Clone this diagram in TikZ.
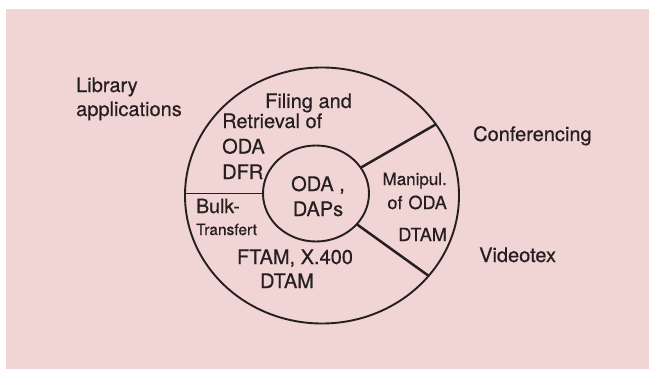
\documentclass[tikz,border=0pt]{standalone}
\usepackage{fontspec}
\setmainfont{TeX Gyre Heros}[FakeBold=0.5]
\usepackage{xcolor}
\usetikzlibrary{shapes.geometric, positioning, calc}
\definecolor{paper}{RGB}{241,213,212}
\definecolor{ink}{RGB}{38,30,32}
\tikzstyle{ring} = [ellipse, draw=ink, line width=1.9pt, inner sep=0pt, outer sep=0pt]
\tikzstyle{spoke} = [draw=ink, line width=2.5pt]
\tikzstyle{txt} = [text=ink, inner sep=0pt, font=\fontsize{20}{24}\selectfont]

\begin{document}
\begin{tikzpicture}[x=1pt, y=-1pt]
\fill [white] (0,0) rectangle (649,369);
\fill [paper] (6,9) rectangle (649,369);
\useasboundingbox (0,0) rectangle (649,369);
\node (outer) [ring, minimum width=274pt, minimum height=256pt] at (322,195.5) {};
\node (inner) [ring, minimum width=106pt, minimum height=96pt] at (316,193.5) {};

\draw [spoke, line width=1.9pt] (inner.west) -- (inner.west -| outer.west);
\draw [spoke] (inner.30) -- (outer.32);
\draw [spoke] (inner.-37) -- (outer.-37);

\node (library) [txt, anchor=base west, align=left] at (76,116) {Library\\applications};
\node (conf) [txt, anchor=base west] at (473,141) {Conferencing};
\node (video) [txt, anchor=base west] at (479,262) {Videotex};
\node (filing) [txt, anchor=base west] at (265,108) {Filing and};
\node (retrieval) [txt, anchor=base west, align=left, font=\fontsize{20}{25.5}\selectfont] at (222,179) {Retrieval of\\ODA\\DFR};
\node (oda) [txt, anchor=base, align=center, font=\fontsize{20}{25}\selectfont] at (318,216) {ODA ,\\DAPs};
\node (manip) [txt, anchor=base east, align=right, font=\fontsize{18}{24}\selectfont] at (447,241) {{\fontsize{17}{24}\selectfont Manipul.}\\of\,\,ODA\\[8pt]DTAM};
\node (bulk) [txt, anchor=base west, font=\fontsize{19.5}{24}\selectfont] at (196,213) {Bulk-};
\node (transfert) [txt, anchor=base west, font=\fontsize{15.5}{18}\selectfont] at (196,235) {Transfert};
\node (ftam) [txt, anchor=base, align=center] at (295,288) {FTAM, X.400\\DTAM\hspace*{16pt}};
\end{tikzpicture}
\end{document}
